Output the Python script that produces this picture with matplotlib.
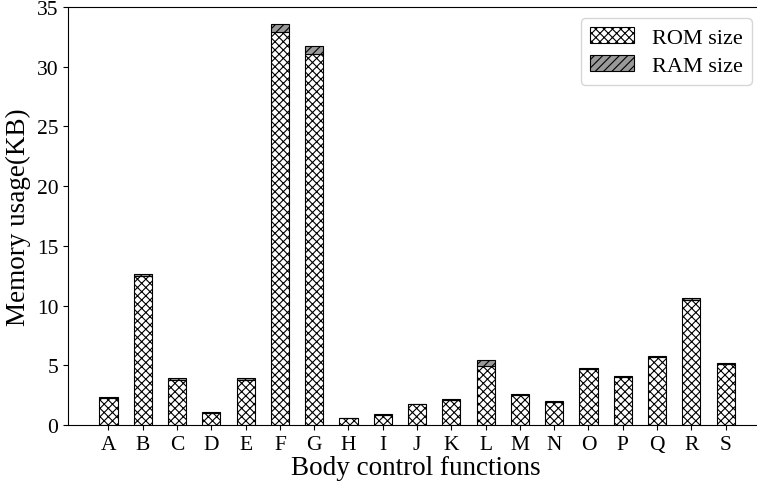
import numpy as np
import matplotlib
matplotlib.use('Agg')
import matplotlib.pyplot as plt

plt.rcParams['font.family'] = ['Liberation Serif', 'DejaVu Serif']
plt.rcParams['hatch.linewidth'] = 0.8

# Body control functions and their memory footprint (KB)
functions = ['A', 'B', 'C', 'D', 'E', 'F', 'G', 'H', 'I', 'J',
             'K', 'L', 'M', 'N', 'O', 'P', 'Q', 'R', 'S']
rom_size = [2.25, 12.5, 3.8, 1.0, 3.8, 32.9, 31.1, 0.55, 0.82, 1.75,
            2.1, 4.9, 2.5, 1.95, 4.7, 4.0, 5.7, 10.45, 5.1]
ram_size = [0.08, 0.15, 0.1, 0.05, 0.1, 0.65, 0.6, 0.05, 0.06, 0.05,
            0.06, 0.55, 0.06, 0.05, 0.1, 0.07, 0.1, 0.2, 0.08]

fig = plt.figure(figsize=(7.57, 4.85), dpi=100)
# axes run slightly past the right edge of the canvas, as in the original crop
ax = fig.add_axes([68 / 757, 1 - 426 / 485, (763 - 68) / 757, (426 - 8) / 485])

x = np.arange(len(functions))
ax.bar(x, rom_size, width=0.53, color='white', edgecolor='black',
       hatch='xxxx', linewidth=0.8, label='ROM size')
ax.bar(x, ram_size, width=0.53, bottom=rom_size, color='#999999',
       edgecolor='black', hatch='////', linewidth=0.8, label='RAM size')

ax.set_xticks(x)
ax.set_xticklabels(functions)
ax.set_xlim(-1.18, 19.09)
ax.set_ylim(0, 35)
ax.set_yticks(np.arange(0, 36, 5))
ax.tick_params(labelsize=15.5)

ax.set_xlabel('Body control functions', fontsize=19.5, labelpad=1)
ax.set_ylabel('Memory usage(KB)', fontsize=19.5, labelpad=4)
ax.legend(loc='upper right', fontsize=16, handlelength=2.0,
          borderaxespad=0.5, borderpad=0.4, labelspacing=0.35)

fig.savefig('out.png', dpi=100)
